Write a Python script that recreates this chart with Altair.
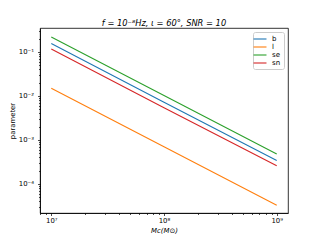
import altair as alt
import pandas as pd
import math

# Data (log-log straight lines)
mc = [1e7, 1e8, 1e9]
series_names = ["b", "l", "se", "sn"]
b_vals = [0.155, 0.0072, 3.4e-4]
l_vals = [0.015, 7.0e-4, 3.3e-5]
se_vals = [0.22, 0.0102, 4.8e-4]
sn_vals = [0.117, 0.0054, 2.6e-4]
colors = ["#1f77b4", "#ff7f0e", "#2ca02c", "#d62728"]

rows = []
for name, vals in zip(series_names, [b_vals, l_vals, se_vals, sn_vals]):
    for x, y in zip(mc, vals):
        rows.append({"Mc": x, "value": y, "series": name})
df = pd.DataFrame(rows)

x_dom = [10 ** 6.9, 10 ** 9.1]
y_dom = [10 ** -4.66, 10 ** -0.455]

def ticks(lo, hi):
    out = []
    for e in range(int(math.floor(math.log10(lo))) - 1, int(math.ceil(math.log10(hi))) + 1):
        for m in range(1, 10):
            v = m * 10 ** e
            if lo <= v <= hi:
                out.append(v)
    return out

sup = {"-": "⁻", "0": "⁰", "1": "¹", "2": "²", "3": "³", "4": "⁴",
       "5": "⁵", "6": "⁶", "7": "⁷", "8": "⁸", "9": "⁹"}

def label_expr(exps):
    expr = "''"
    for e in exps:
        s = "10" + "".join(sup[c] for c in str(e))
        expr = f"round(log(datum.value)/LN10) == {e} ? '{s}' : " + expr
    return f"abs(log(datum.value)/LN10 - round(log(datum.value)/LN10)) < 0.001 ? ({expr}) : ''"

is_major = "abs(log(datum.value)/LN10 - round(log(datum.value)/LN10)) < 0.001"

font = "DejaVu Sans"

chart = alt.Chart(df).mark_line(strokeWidth=1.1, clip=True).encode(
    x=alt.X("Mc:Q",
            scale=alt.Scale(type="log", domain=x_dom, nice=False),
            axis=alt.Axis(values=ticks(*x_dom), labelExpr=label_expr([7, 8, 9]),
                          title="Mc(M⊙)", titleFontStyle="italic",
                          tickSize={"condition": {"test": is_major, "value": 2.5}, "value": 1.5},
                          labelPadding=2, titlePadding=4)),
    y=alt.Y("value:Q",
            scale=alt.Scale(type="log", domain=y_dom, nice=False),
            axis=alt.Axis(values=ticks(*y_dom), labelExpr=label_expr([-1, -2, -3, -4]),
                          title="parameter",
                          tickSize={"condition": {"test": is_major, "value": 2.5}, "value": 1.5},
                          labelPadding=4, titlePadding=3)),
    color=alt.Color("series:N",
                    scale=alt.Scale(domain=series_names, range=colors),
                    legend=alt.Legend(orient="top-right", offset=4, title=None,
                                      strokeColor="#cccccc", fillColor="white",
                                      padding=3, cornerRadius=2,
                                      symbolType="M-2,0L2,0",
                                      symbolStrokeWidth=1.1, symbolSize=42,
                                      labelFontSize=7, labelFont=font, rowPadding=1,
                                      labelOffset=8)),
).properties(
    width=248, height=185,
    title=alt.TitleParams("f = 10⁻⁸Hz, ι = 60°, SNR = 10", fontSize=8.3,
                          font=font, fontWeight="normal", fontStyle="italic",
                          offset=0, color="black"),
    autosize=alt.AutoSizeParams(type="none"),
    padding={"left": 32, "top": 20, "right": 24, "bottom": 26},
).configure_view(
    stroke="black", strokeWidth=0.8
).configure_axis(
    grid=False, domainColor="black", domainWidth=0.8, tickColor="black",
    tickWidth=0.7, labelFont=font, labelFontSize=6.9, labelColor="black",
    titleFont=font, titleFontSize=6.9, titleFontWeight="normal", titleColor="black",
    labelFlush=False, labelOverlap=False,
)

chart.save("out.html", embed_options={"renderer": "svg", "actions": False})
